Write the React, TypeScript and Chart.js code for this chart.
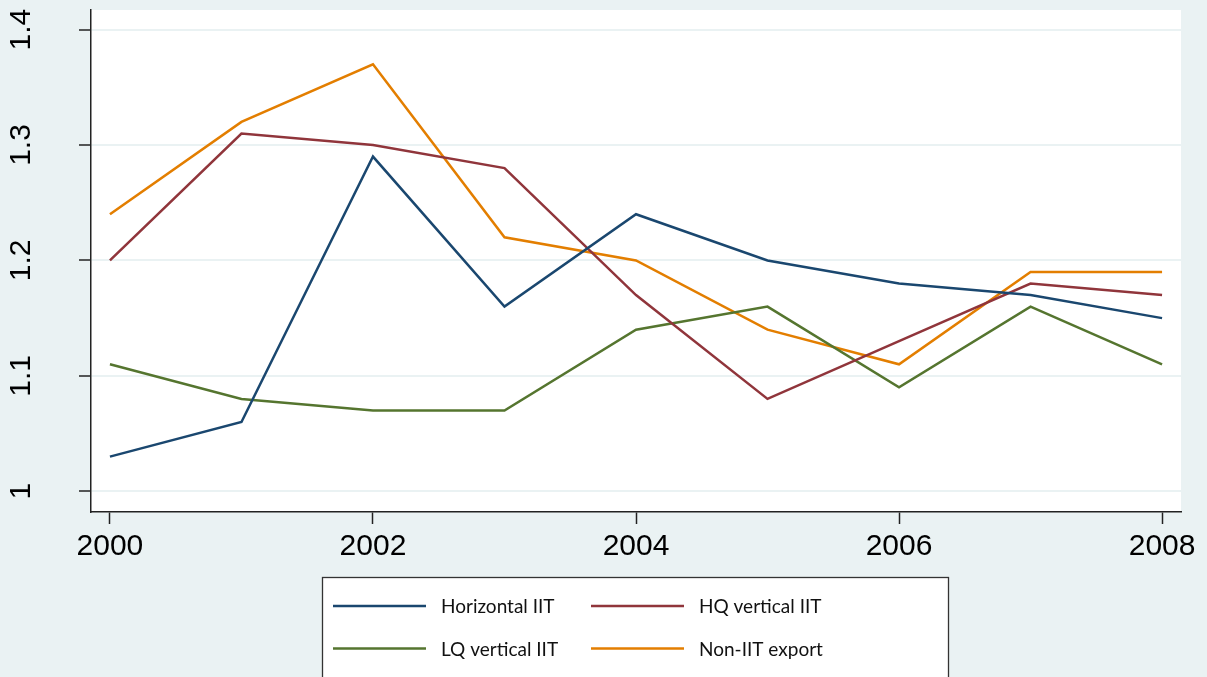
import React, { useEffect, useRef } from "react";
import { Chart, registerables } from "chart.js";

Chart.register(...registerables);

const years = [2000, 2001, 2002, 2003, 2004, 2005, 2006, 2007, 2008];
const horizontalIIT = [1.03, 1.06, 1.29, 1.16, 1.24, 1.2, 1.18, 1.17, 1.15];
const hqVerticalIIT = [1.2, 1.31, 1.3, 1.28, 1.17, 1.08, 1.13, 1.18, 1.17];
const lqVerticalIIT = [1.11, 1.08, 1.07, 1.07, 1.14, 1.16, 1.09, 1.16, 1.11];
const nonIITExport = [1.24, 1.32, 1.37, 1.22, 1.2, 1.14, 1.11, 1.19, 1.19];
const seriesLabels = ["Horizontal IIT", "HQ vertical IIT", "LQ vertical IIT", "Non-IIT export"];
const seriesColors = ["#1A476F", "#90353B", "#55752F", "#E37E00"];
const xTicks = [2000, 2002, 2004, 2006, 2008];
const yTicks = [1, 1.1, 1.2, 1.3, 1.4];

const BG = "#EAF2F3";

const backgroundPlugin = {
  id: "stataBackground",
  beforeDraw(chart: any) {
    const { ctx, chartArea, width, height } = chart;
    ctx.save();
    ctx.fillStyle = BG;
    ctx.fillRect(0, 0, width, height);
    ctx.fillStyle = "#FFFFFF";
    ctx.fillRect(chartArea.left, chartArea.top, chartArea.right - chartArea.left, chartArea.bottom - chartArea.top);
    ctx.restore();
  },
};

const legendPlugin = {
  id: "boxLegend",
  afterDraw(chart: any) {
    const ctx = chart.ctx;
    ctx.save();
    const bx = 322.5;
    const by = 577.5;
    const bw = 626;
    const bh = 130;
    ctx.fillStyle = "#FFFFFF";
    ctx.fillRect(bx, by, bw, bh);
    ctx.strokeStyle = "#333333";
    ctx.lineWidth = 1.3;
    ctx.strokeRect(bx, by, bw, bh);
    chart.data.datasets.forEach((ds: any, i: number) => {
      const col = i % 2;
      const row = Math.floor(i / 2);
      const lx = 333 + col * 258;
      const ly = 606 + row * 42.5;
      ctx.strokeStyle = ds.borderColor;
      ctx.lineWidth = 2.5;
      ctx.beginPath();
      ctx.moveTo(lx, ly);
      ctx.lineTo(lx + 93, ly);
      ctx.stroke();
      ctx.fillStyle = "#111111";
      ctx.font = "19px Lato";
      ctx.textBaseline = "middle";
      ctx.textAlign = "left";
      ctx.fillText(ds.label, lx + 108, ly + 1);
    });
    ctx.restore();
  },
};

export default function App() {
  const canvasRef = useRef<HTMLCanvasElement | null>(null);

  useEffect(() => {
    if (!canvasRef.current) return;
    const series = [horizontalIIT, hqVerticalIIT, lqVerticalIIT, nonIITExport];
    const chart = new Chart(canvasRef.current, {
      type: "line",
      data: {
        datasets: series.map((vals, i) => ({
          label: seriesLabels[i],
          data: years.map((yr, j) => ({ x: yr, y: vals[j] })),
          borderColor: seriesColors[i],
          backgroundColor: seriesColors[i],
          borderWidth: 2.5,
          pointRadius: 0,
          tension: 0,
          fill: false,
        })),
      },
      options: {
        animation: false,
        responsive: false,
        devicePixelRatio: 1,
        layout: { padding: { left: 0, top: 10, right: 26, bottom: 105 } },
        plugins: {
          legend: { display: false },
          tooltip: { enabled: false },
        },
        scales: {
          x: {
            type: "linear",
            min: 1999.856,
            max: 2008.144,
            afterBuildTicks: (scale: any) => {
              scale.ticks = xTicks.map((v) => ({ value: v }));
            },
            afterFit: (scale: any) => {
              scale.height = 60;
              scale.paddingLeft = 0;
              scale.paddingRight = 0;
            },
            ticks: {
              color: "#000000",
              font: { family: "Liberation Sans", size: 30 },
              padding: 5,
              maxRotation: 0,
              minRotation: 0,
              callback: (v: any) => String(v),
            },
            grid: {
              drawOnChartArea: false,
              drawTicks: true,
              tickLength: 12,
              tickColor: "#222222",
              tickWidth: 1.5,
            },
            border: { display: true, color: "#222222", width: 1.5 },
          },
          y: {
            type: "linear",
            min: 0.982,
            max: 1.417,
            afterBuildTicks: (scale: any) => {
              scale.ticks = yTicks.map((v) => ({ value: v }));
            },
            afterFit: (scale: any) => {
              scale.width = 91;
              scale.paddingTop = 0;
              scale.paddingBottom = 0;
            },
            ticks: {
              color: "#000000",
              font: { family: "Liberation Sans", size: 30 },
              padding: 36,
              minRotation: 90,
              maxRotation: 90,
              crossAlign: "center",
              callback: (v: any) => String(v),
            },
            grid: {
              color: BG,
              lineWidth: 2,
              drawTicks: true,
              tickLength: 12,
              tickColor: "#222222",
              tickWidth: 1.5,
            },
            border: { display: true, color: "#222222", width: 1.5 },
          },
        },
      },
      plugins: [backgroundPlugin, legendPlugin],
    } as any);
    return () => chart.destroy();
  }, []);

  return (
    <div style={{ position: "absolute", left: 0, top: 0, width: 1207, height: 677, background: BG, overflow: "hidden" }}>
      <canvas ref={canvasRef} width={1207} height={677} style={{ display: "block" }} />
    </div>
  );
}
